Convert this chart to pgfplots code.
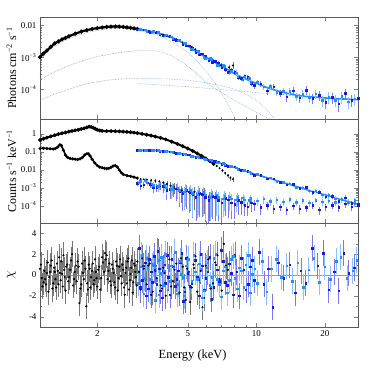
\documentclass[border=0pt]{standalone}
\usepackage{fontspec}
\setmainfont{Liberation Serif}
\usepackage{pgfplots}
\pgfplotsset{compat=1.18}
\definecolor{dblue}{RGB}{25,25,230}
\definecolor{lblue}{RGB}{30,144,255}
\definecolor{dbluebar}{RGB}{125,120,240}
\definecolor{lbluebar}{RGB}{135,195,255}
\definecolor{gbar}{RGB}{120,120,120}
\definecolor{compgray}{RGB}{150,150,150}
\definecolor{compblue}{RGB}{140,170,235}
\definecolor{zgreen}{RGB}{90,200,90}
\pgfplotsset{every axis/.append style={scale only axis, width=318bp,
  xtick pos=both, ytick pos=both, tick align=inside,
  axis line style={black!65},
  major tick length=4bp, minor tick length=2.2bp,
  tick label style={font=\fontsize{9}{10}\selectfont},
  /pgf/number format/assume math mode=true}}
\begin{document}
\begin{tikzpicture}
\path[use as bounding box] (0,0) rectangle (371bp,371bp);
% ================= TOP PANEL =================
\begin{axis}[at={(40bp,252bp)}, anchor=south west, height=102bp,
  xmode=log, xmin=1.12, xmax=28, xtick={2,5,10,20}, minor xtick={3,4,6,7,8,9},
  ymode=log, ymin=1.17e-5, ymax=0.018,
  xticklabels={,,,},
  ytick={1e-4,1e-3,1e-2}, yticklabels={10\textsuperscript{−4},10\textsuperscript{−3},0.01},
  ylabel={Photons cm\textsuperscript{−2} s\textsuperscript{−1}},
  ylabel style={at={(axis description cs:-0.09,0.5)}, anchor=center, font=\fontsize{12}{13}\selectfont}]
\addplot[compgray, densely dotted, line width=0.6bp] coordinates {(1.12,8e-4)(1.2,1.4e-3)(1.3,2.2e-3)(1.4,3.0e-3)(1.5,3.8e-3)(1.65,4.9e-3)(1.8,5.9e-3)(2.0,6.9e-3)(2.2,7.6e-3)(2.4,7.9e-3)(2.6,7.9e-3)(2.8,7.6e-3)(3.0,7.1e-3)};
\addplot[compgray, densely dotted, line width=0.6bp] coordinates {(1.12,2e-4)(1.3,3.5e-4)(1.5,5.5e-4)(1.75,8e-4)(2.0,1.05e-3)(2.5,1.4e-3)(3.0,1.6e-3)};
\addplot[compgray, densely dotted, line width=0.6bp] coordinates {(1.12,4.6e-5)(1.3,7e-5)(1.5,1e-4)(1.8,1.5e-4)(2.2,1.9e-4)(2.6,2.1e-4)(3.0,2.15e-4)};
\addplot[compblue, densely dotted, line width=0.6bp] coordinates {(3.0,7.1e-3)(3.5,5.6e-3)(4.0,3.8e-3)(4.5,2.4e-3)(5.0,1.4e-3)(5.5,7.5e-4)(6.0,3.8e-4)(6.5,1.8e-4)(7.0,8e-5)(7.5,3.4e-5)(8.0,1.4e-5)(8.2,1.0e-5)};
\addplot[compblue, densely dotted, line width=0.6bp] coordinates {(3.0,1.6e-3)(3.5,1.6e-3)(3.9,1.4e-3)(4.3,1.05e-3)(4.8,6.5e-4)(5.5,3e-4)(6.1,1.5e-4)(6.8,9e-5)(8,4.5e-5)(9.5,2.3e-5)(11.6,1.1e-5)};
\addplot[compblue, densely dotted, line width=0.6bp] coordinates {(3,2.15e-4)(4,2.1e-4)(5,1.9e-4)(6,1.6e-4)(7,1.3e-4)(8,1.0e-4)(9,7e-5)(10,4.5e-5)(11,2.5e-5)(12,1.2e-5)};
\addplot[compblue, densely dotted, line width=0.6bp] coordinates {(3,1.5e-4)(5,1.2e-4)(8,9e-5)(12,7e-5)(20,5.5e-5)(28,4.7e-5)};
\addplot[black, line width=2.2bp, mark=*, mark size=0.7bp] coordinates {(1.12,1.0e-3)(1.16,1.3e-3)(1.2,1.6e-3)(1.25,2.1e-3)(1.3,2.7e-3)(1.35,3.1e-3)(1.4,3.6e-3)(1.45,4.0e-3)(1.5,4.5e-3)(1.6,5.4e-3)(1.7,6.3e-3)(1.8,7.0e-3)(1.9,7.6e-3)(2.0,8.1e-3)(2.1,8.5e-3)(2.2,8.8e-3)(2.3,9.0e-3)(2.4,9.1e-3)(2.5,9.0e-3)(2.6,8.8e-3)(2.7,8.5e-3)(2.8,8.2e-3)(2.9,7.9e-3)(3.0,7.6e-3)};
\addplot[black, only marks, mark=*, mark size=0.8bp, error bars/.cd, y dir=both, y explicit relative, error mark=none, error bar style={gbar, line width=0.5bp}] table[x=x,y=y,y error=e] {
x y e
3.1 7.3e-3 0.02
3.2 7.0e-3 0.02
3.3 6.8e-3 0.02
3.4 6.4e-3 0.02
3.5 6.2e-3 0.02
3.6 5.8e-3 0.03
3.7 5.6e-3 0.03
3.8 5.2e-3 0.03
3.9 5.0e-3 0.03
4.0 4.7e-3 0.03
4.15 4.3e-3 0.04
4.3 3.9e-3 0.04
4.45 3.6e-3 0.04
4.6 3.2e-3 0.05
4.75 2.9e-3 0.05
4.9 2.6e-3 0.05
5.05 2.3e-3 0.06
5.2 2.1e-3 0.06
5.4 1.75e-3 0.07
5.6 1.5e-3 0.08
5.8 1.25e-3 0.09
6.0 1.1e-3 0.1
6.25 8.8e-4 0.12
6.5 7.5e-4 0.13
6.75 6.0e-4 0.15
7.0 5.6e-4 0.17
7.3 4.2e-4 0.2
7.6 4.8e-4 0.22
7.9 5.5e-4 0.25
};
\addplot[lblue, line width=1.6bp] coordinates {(3.0,7.5e-3)(3.2,7.0e-3)(3.42,6.4e-3)(3.65,5.8e-3)(3.9,5.1e-3)(4.17,4.3e-3)(4.45,3.6e-3)(4.75,2.8e-3)(5.07,2.1e-3)(5.42,1.55e-3)(5.79,1.15e-3)(6.18,8.8e-4)(6.6,6.8e-4)(7.05,5.2e-4)(7.53,4.0e-4)(8.04,3.0e-4)(8.59,2.4e-4)(9.17,1.95e-4)(9.8,1.6e-4)(10.46,1.35e-4)(11.17,1.12e-4)(11.93,9.6e-5)(12.74,8.4e-5)(13.61,7.5e-5)(14.54,6.8e-5)(15.52,6.3e-5)(16.58,5.9e-5)(17.7,5.7e-5)(18.91,5.5e-5)(20.19,5.3e-5)(21.57,5.15e-5)(23.03,5.0e-5)(24.6,4.9e-5)(26.27,4.8e-5)(28,4.7e-5)};
\addplot[dblue, only marks, mark=square*, mark size=0.8bp, error bars/.cd, y dir=both, y explicit relative, error mark=none, error bar style={dbluebar, line width=0.5bp}] table[x=x,y=y,y error=e] {
x y e
3.00 7.28e-3 0.04
3.10 7.49e-3 0.04
3.20 7.14e-3 0.04
3.31 6.43e-3 0.04
3.42 6.08e-3 0.04
3.53 6.34e-3 0.04
3.65 6.03e-3 0.04
3.77 5.18e-3 0.04
3.90 4.74e-3 0.04
4.03 4.94e-3 0.05
4.17 4.52e-3 0.05
4.31 3.71e-3 0.05
4.45 3.46e-3 0.05
4.60 3.39e-3 0.05
4.75 2.52e-3 0.05
4.91 2.27e-3 0.06
5.07 2.27e-3 0.07
5.25 1.94e-3 0.07
5.42 1.46e-3 0.08
5.60 1.24e-3 0.08
5.79 1.27e-3 0.08
5.98 1.1e-3 0.09
6.18 7.74e-4 0.1
6.39 7.02e-4 0.1
6.60 7.62e-4 0.1
6.82 6.72e-4 0.11
7.05 4.78e-4 0.12
7.29 4.05e-4 0.12
7.53 3.4e-4 0.13
7.78 4.03e-4 0.14
8.04 3.45e-4 0.15
8.31 2.32e-4 0.16
8.59 2.16e-4 0.17
8.88 2.6e-4 0.17
9.17 2.34e-4 0.18
9.48 1.51e-4 0.19
9.80 1.31e-4 0.2
10.46 1.49e-4 0.2
11.17 8.96e-5 0.25
11.93 1.2e-4 0.22
12.74 7.56e-5 0.25
13.61 5.85e-5 0.3
14.54 8.84e-5 0.28
15.52 5.36e-5 0.3
16.58 9.44e-5 0.3
17.70 5.13e-5 0.35
18.91 6.6e-5 0.35
20.19 3.98e-5 0.4
21.57 5.67e-5 0.38
23.03 3.5e-5 0.45
24.60 7.35e-5 0.35
26.27 4.56e-5 0.4
28.0 5.17e-5 0.4
};
\addplot[lblue, only marks, mark=square*, mark size=0.8bp, error bars/.cd, y dir=both, y explicit relative, error mark=none, error bar style={lbluebar, line width=0.5bp}] table[x=x,y=y,y error=e] {
x y e
3.04 7.18e-3 0.04
3.09 7.52e-3 0.04
3.25 7.12e-3 0.04
3.30 6.57e-3 0.04
3.47 6.02e-3 0.04
3.52 6.41e-3 0.04
3.70 5.93e-3 0.04
3.76 5.34e-3 0.04
3.95 4.7e-3 0.05
4.02 4.98e-3 0.05
4.23 4.4e-3 0.05
4.29 3.84e-3 0.05
4.51 3.24e-3 0.05
4.58 3.33e-3 0.05
4.82 2.81e-3 0.06
4.89 2.7e-3 0.06
5.15 1.81e-3 0.07
5.22 1.76e-3 0.07
5.50 1.58e-3 0.08
5.58 1.44e-3 0.08
5.87 9.81e-4 0.09
5.96 9.49e-4 0.09
6.27 9.3e-4 0.1
6.37 8.58e-4 0.1
6.70 5.7e-4 0.11
6.80 5.64e-4 0.11
7.15 5.59e-4 0.12
7.26 5.15e-4 0.12
7.64 3.31e-4 0.14
7.76 3.68e-4 0.14
8.16 3.31e-4 0.16
8.28 2.43e-4 0.16
8.72 1.98e-4 0.17
8.85 2.47e-4 0.17
9.31 2.2e-4 0.19
9.45 1.64e-4 0.19
10.09 1.63e-4 0.2
10.77 1.18e-4 0.22
11.51 1.23e-4 0.22
12.29 7.92e-5 0.25
13.12 8.8e-5 0.25
14.02 8.64e-5 0.28
14.98 5.94e-5 0.3
15.99 7.02e-5 0.3
17.08 5.51e-5 0.33
18.23 7.28e-5 0.33
19.48 4.59e-5 0.38
20.80 5.72e-5 0.38
22.22 4.59e-5 0.4
23.72 5.94e-5 0.4
25.34 4.12e-5 0.42
27.06 4.99e-5 0.42
};
\end{axis}
% ================= MIDDLE PANEL =================
\begin{axis}[at={(40bp,148bp)}, anchor=south west, height=104bp,
  xmode=log, xmin=1.12, xmax=28, xtick={2,5,10,20}, minor xtick={3,4,6,7,8,9},
  ymode=log, ymin=1.1e-5, ymax=6.5,
  xticklabels={,,,},
  ytick={1e-4,1e-3,1e-2,0.1,1}, yticklabels={10\textsuperscript{−4},10\textsuperscript{−3},0.01,0.1,1},
  ylabel={Counts s\textsuperscript{−1} keV\textsuperscript{−1}},
  ylabel style={at={(axis description cs:-0.09,0.5)}, anchor=center, font=\fontsize{12}{13}\selectfont}]
\addplot[black, line width=2bp, mark=*, mark size=0.7bp] coordinates {(1.12,0.45)(1.16,0.52)(1.2,0.6)(1.25,0.7)(1.3,0.82)(1.35,0.94)(1.4,1.05)(1.45,1.15)(1.5,1.28)(1.55,1.4)(1.6,1.52)(1.65,1.65)(1.7,1.8)(1.75,1.98)(1.8,2.2)(1.84,2.45)(1.88,2.35)(1.92,2.1)(1.96,1.85)(2.0,1.65)(2.05,1.5)(2.1,1.42)(2.2,1.38)(2.3,1.38)(2.4,1.36)(2.5,1.33)(2.6,1.3)(2.7,1.25)(2.8,1.2)(2.9,1.14)(3.0,1.08)(3.15,0.97)(3.3,0.87)(3.45,0.78)(3.6,0.69)(3.8,0.58)(4.0,0.48)(4.25,0.36)(4.5,0.27)(4.75,0.2)(5.0,0.15)(5.25,0.11)(5.5,0.08)(5.75,0.058)(6.0,0.042)(6.25,0.03)(6.5,0.021)};
\addplot[black, only marks, mark=*, mark size=0.8bp, error bars/.cd, y dir=both, y explicit relative, error mark=none, error bar style={gbar, line width=0.5bp}] table[x=x,y=y,y error=e] {
x y e
6.7 0.016 0.1
6.9 0.012 0.12
7.1 0.009 0.15
7.3 0.0065 0.2
7.5 0.0048 0.25
7.7 0.0035 0.3
7.9 0.003 0.3
};
\addplot[black, line width=1.6bp, mark=*, mark size=0.6bp] coordinates {(1.12,0.15)(1.16,0.155)(1.2,0.15)(1.24,0.145)(1.28,0.14)(1.31,0.15)(1.34,0.18)(1.37,0.24)(1.39,0.22)(1.42,0.12)(1.45,0.065)(1.48,0.048)(1.52,0.042)(1.56,0.04)(1.6,0.038)(1.64,0.037)(1.68,0.04)(1.72,0.048)(1.76,0.065)(1.8,0.078)(1.83,0.075)(1.86,0.058)(1.9,0.038)(1.95,0.024)(2.0,0.017)(2.05,0.014)(2.1,0.013)(2.15,0.012)(2.2,0.0115)(2.25,0.012)(2.3,0.0135)(2.35,0.016)(2.4,0.017)(2.45,0.014)(2.5,0.0095)(2.55,0.0068)(2.6,0.0055)(2.7,0.0047)(2.8,0.0043)(2.9,0.0039)(3.0,0.0034)};
\addplot[black, only marks, mark=*, mark size=0.8bp, error bars/.cd, y dir=both, y explicit relative, error mark=none, error bar style={gbar, line width=0.5bp}] table[x=x,y=y,y error=e] {
x y e
3.1 0.0030 0.1
3.2 0.0029 0.1
3.3 0.0028 0.12
3.45 0.0026 0.15
3.6 0.0024 0.2
3.75 0.0022 0.25
3.9 0.0019 0.3
4.05 0.0016 0.4
4.2 0.0013 0.5
4.35 0.0011 0.6
4.5 0.0009 0.7
4.7 0.0007 0.8
4.9 0.0008 0.85
5.1 0.0005 0.9
5.35 0.0006 0.9
5.6 0.0004 0.92
5.9 0.0005 0.93
6.2 0.0003 0.95
};
\addplot[lblue, line width=1.4bp] coordinates {(3.0,0.12)(3.2,0.121)(3.42,0.12)(3.65,0.117)(3.9,0.11)(4.17,0.099)(4.45,0.087)(4.75,0.075)(5.07,0.063)(5.42,0.052)(5.79,0.043)(6.18,0.035)(6.6,0.028)(7.05,0.022)(7.53,0.017)(8.04,0.013)(8.59,0.0098)(9.17,0.0075)(9.8,0.0058)(10.46,0.0046)(11.17,0.0036)(11.93,0.0028)(12.74,0.0022)(13.61,0.0017)(14.54,0.0013)(15.52,0.00105)(16.58,0.00078)(17.7,0.00062)(18.91,0.0005)(20.19,0.0004)(21.57,0.00031)(23.03,0.00024)(24.6,0.00019)(26.27,0.00015)(28,0.00012)};
\addplot[dblue, only marks, mark=square*, mark size=0.8bp, error bars/.cd, y dir=both, y explicit relative, error mark=none, error bar style={dbluebar, line width=0.5bp}] table[x=x,y=y,y error=e] {
x y e
3.00 0.1176 0.03
3.10 0.1234 0.03
3.20 0.1222 0.03
3.31 0.1174 0.03
3.42 0.1164 0.03
3.53 0.1231 0.03
3.65 0.1193 0.03
3.77 0.1099 0.03
3.90 0.1067 0.03
4.03 0.1092 0.03
4.17 0.1020 0.03
4.31 0.0912 0.03
4.45 0.0853 0.03
4.60 0.0834 0.03
4.75 0.0713 0.03
4.91 0.0662 0.04
5.07 0.0662 0.04
5.25 0.0609 0.04
5.42 0.0499 0.04
5.60 0.0456 0.04
5.79 0.0456 0.04
5.98 0.041 0.05
6.18 0.0326 0.05
6.39 0.0301 0.05
6.60 0.0300 0.05
6.82 0.027 0.05
7.05 0.0209 0.06
7.29 0.0183 0.06
7.53 0.0156 0.06
7.78 0.0161 0.07
8.04 0.0143 0.07
8.31 0.0105 0.08
8.59 0.00911 0.08
8.88 0.0093 0.09
9.17 0.0084 0.09
9.48 0.0061 0.1
9.80 0.0051 0.1
10.46 0.00497 0.1
11.17 0.0031 0.12
11.93 0.00322 0.12
12.74 0.00202 0.15
13.61 0.00145 0.17
14.54 0.00156 0.17
15.52 0.000924 0.2
16.58 0.00109 0.2
17.70 0.000558 0.25
18.91 0.000575 0.25
20.19 0.00032 0.3
21.57 0.000341 0.3
23.03 0.00018 0.35
24.60 0.000285 0.3
26.27 0.000135 0.4
28.0 0.000132 0.4
};
\addplot[lblue, only marks, mark=square*, mark size=0.8bp, error bars/.cd, y dir=both, y explicit relative, error mark=none, error bar style={lbluebar, line width=0.5bp}] table[x=x,y=y,y error=e] {
x y e
3.04 0.1181 0.03
3.09 0.1234 0.03
3.25 0.1246 0.03
3.30 0.1198 0.03
3.47 0.1164 0.03
3.52 0.1226 0.03
3.70 0.1212 0.03
3.76 0.1117 0.03
3.95 0.1037 0.03
4.02 0.1082 0.03
4.23 0.0999 0.03
4.29 0.0921 0.03
4.51 0.0825 0.03
4.58 0.0836 0.03
4.82 0.0756 0.04
4.89 0.0735 0.04
5.15 0.058 0.04
5.22 0.0563 0.04
5.50 0.052 0.04
5.58 0.0499 0.04
5.87 0.0399 0.05
5.96 0.0374 0.05
6.27 0.036 0.05
6.37 0.0336 0.05
6.70 0.0254 0.05
6.80 0.0243 0.05
7.15 0.0223 0.06
7.26 0.0207 0.06
7.64 0.0151 0.06
7.76 0.0155 0.06
8.16 0.0131 0.07
8.28 0.0108 0.07
8.72 0.0086 0.08
8.85 0.0094 0.08
9.31 0.0077 0.09
9.45 0.00627 0.09
10.09 0.00551 0.1
10.77 0.00398 0.11
11.51 0.00352 0.12
12.29 0.0023 0.14
13.12 0.00201 0.15
14.02 0.00168 0.17
14.98 0.0011 0.2
15.99 0.00099 0.2
17.08 0.00068 0.24
18.23 0.00067 0.24
19.48 0.000405 0.3
20.80 0.000371 0.3
22.22 0.000251 0.35
23.72 0.000235 0.35
25.34 0.000153 0.4
27.06 0.000139 0.4
};
\addplot[dblue, only marks, mark=square*, mark size=0.8bp, error bars/.cd, y dir=both, y explicit relative, error mark=none, error bar style={dbluebar, line width=0.5bp}] table[x=x,y=y,y error=e] {
x y e
3.00 1.8e-3 0.3
3.10 1.3e-3 0.4
3.20 1.5e-3 0.35
3.31 1.9e-3 0.35
3.42 1.6e-3 0.4
3.53 1.0e-3 0.5
3.65 1.1e-3 0.5
3.77 1.4e-3 0.5
3.90 1.2e-3 0.6
4.03 7e-4 0.7
4.17 8e-4 0.7
4.31 1.0e-3 0.7
4.45 9e-4 0.8
4.60 6e-4 0.85
4.75 5e-4 0.9
4.91 7e-4 0.9
5.07 6e-4 0.93
5.25 4e-4 0.95
5.42 3e-4 0.95
5.60 5e-4 0.95
5.79 4.5e-4 0.95
5.98 3e-4 0.96
6.18 2e-4 0.96
6.39 3.5e-4 0.95
6.60 3e-4 0.95
6.82 2e-4 0.93
7.05 1.5e-4 0.9
7.29 2.6e-4 0.9
7.53 2.2e-4 0.9
7.78 1.5e-4 0.88
8.04 1.2e-4 0.85
8.31 2e-4 0.85
8.59 1.6e-4 0.8
8.88 1.1e-4 0.75
9.17 9e-5 0.7
9.48 1.5e-4 0.7
9.80 1.3e-4 0.6
10.46 8e-5 0.6
11.17 1.1e-4 0.5
11.93 7e-5 0.5
12.74 9e-5 0.45
13.61 6e-5 0.5
14.54 1e-4 0.45
15.52 7e-5 0.5
16.58 8e-5 0.45
17.70 1.1e-4 0.4
18.91 6e-5 0.5
20.19 9e-5 0.45
21.57 1.1e-4 0.4
23.03 8e-5 0.45
24.60 1.3e-4 0.4
26.27 9e-5 0.45
28.0 1.1e-4 0.4
};
\addplot[lblue, only marks, mark=square*, mark size=0.8bp, error bars/.cd, y dir=both, y explicit relative, error mark=none, error bar style={lbluebar, line width=0.5bp}] table[x=x,y=y,y error=e] {
x y e
3.04 1.9e-3 0.3
3.09 2.3e-3 0.3
3.25 2.5e-3 0.3
3.30 1.9e-3 0.35
3.47 1.7e-3 0.4
3.52 1.4e-3 0.4
3.70 1.2e-3 0.5
3.76 1.5e-3 0.5
3.95 1.4e-3 0.55
4.02 1.0e-3 0.6
4.23 8e-4 0.7
4.29 1.1e-3 0.7
4.51 1.0e-3 0.75
4.58 7e-4 0.8
4.82 6e-4 0.9
4.89 8e-4 0.9
5.15 7e-4 0.92
5.22 5e-4 0.95
5.50 4e-4 0.95
5.58 6e-4 0.95
5.87 5.5e-4 0.95
5.96 4e-4 0.96
6.27 3e-4 0.95
6.37 4.5e-4 0.95
6.70 4e-4 0.93
6.80 3e-4 0.9
7.15 2.5e-4 0.9
7.26 3.5e-4 0.85
7.64 3.2e-4 0.85
7.76 2.5e-4 0.8
8.16 2.2e-4 0.8
8.28 3e-4 0.7
8.72 2.8e-4 0.65
8.85 2.2e-4 0.6
9.31 2e-4 0.55
9.45 2.6e-4 0.5
10.09 1.9e-4 0.5
10.77 2.4e-4 0.45
11.51 1.8e-4 0.45
12.29 2.2e-4 0.4
13.12 1.7e-4 0.4
14.02 2.3e-4 0.35
14.98 1.6e-4 0.4
15.99 2e-4 0.35
17.08 1.5e-4 0.4
18.23 2.1e-4 0.35
19.48 1.7e-4 0.4
20.80 1.9e-4 0.35
22.22 1.6e-4 0.4
23.72 2.2e-4 0.35
25.34 1.7e-4 0.4
27.06 2e-4 0.35
};
\end{axis}
% ================= BOTTOM PANEL =================
\begin{axis}[at={(40bp,44bp)}, anchor=south west, height=104bp,
  xmode=log, xmin=1.12, xmax=28, xtick={2,5,10,20}, minor xtick={3,4,6,7,8,9},
  ymin=-5, ymax=5, ytick={-4,-2,0,2,4}, yticklabels={-4,-2,0,2,4}, minor y tick num=1,
  xticklabels={2,5,10,20},
  ylabel={$\chi$},
  ylabel style={at={(axis description cs:-0.09,0.5)}, anchor=center, font=\fontsize{14}{15}\selectfont},
  xlabel={Energy (keV)},
  xlabel style={at={(axis description cs:0.48,-0.27)}, anchor=center, font=\fontsize{12.5}{14}\selectfont}]
\addplot[zgreen, line width=0.7bp] coordinates {(1.12,0)(28,0)};
\addplot[black, only marks, mark=*, mark size=0.9bp, error bars/.cd, y dir=both, y fixed=1.25, error mark=none, error bar style={gbar, line width=0.7bp}] table {
1.12 0.6
1.13 1.0
1.14 -0.3
1.15 -1.1
1.16 -0.7
1.17 0.4
1.18 -0.4
1.19 -0.9
1.20 0.2
1.21 1.2
1.22 -1.6
1.23 -0.2
1.24 0.3
1.25 0.9
1.26 1.4
1.27 -1.3
1.28 -0.8
1.29 0.7
1.30 0.3
1.31 -0.4
1.32 -1.2
1.33 1.1
1.34 0.4
1.35 -0.9
1.36 1.7
1.37 0.2
1.38 -0.5
1.39 1.3
1.40 0.1
1.41 -1.1
1.42 1.9
1.43 0.5
1.44 -0.2
1.45 -1.5
1.46 0.8
1.475 1.0
1.49 -0.6
1.505 -0.2
1.52 0.5
1.535 1.4
1.55 2.0
1.565 -1.0
1.58 -0.4
1.595 0.3
1.61 0.9
1.625 -0.6
1.64 1.3
1.655 0.8
1.67 -2.7
1.685 -1.3
1.70 -0.9
1.715 1.1
1.73 0.2
1.745 -0.4
1.76 1.4
1.775 0.6
1.79 -3.0
1.805 -0.8
1.82 -1.4
1.835 1.0
1.85 0.6
1.865 -1.2
1.88 -0.2
1.895 0.4
1.91 1.1
1.925 -0.9
1.94 -0.5
1.955 1.5
1.97 0.3
1.985 -0.3
2.00 -1.1
2.02 0.5
2.04 0.8
2.06 -1.4
2.08 -0.3
2.10 1.7
2.12 1.2
2.14 0.3
2.16 2.1
2.18 1.5
2.20 1.9
2.22 -0.4
2.24 0.4
2.26 1.1
2.28 -0.6
2.30 -1.0
2.32 1.0
2.34 0.6
2.36 0.2
2.38 -0.7
2.40 -1.2
2.42 1.3
2.44 0.9
2.46 -1.5
2.48 -0.3
2.50 0.8
2.52 1.5
2.54 -0.1
2.56 -0.8
2.58 1.0
2.60 0.5
2.62 -1.2
2.64 -1.9
2.66 0.2
2.68 0.7
2.70 -0.8
2.72 1.3
2.74 1.6
2.76 -1.4
2.78 -0.5
2.80 0.1
2.82 0.7
2.84 1.4
2.86 -1.7
2.88 -0.7
2.90 1.1
2.92 0.9
2.94 0.3
2.96 -0.2
2.98 -1.0
3.00 1.3
3.05 0.3
3.10 -1.4
3.15 1.6
3.20 0.6
3.25 -0.4
3.30 -0.9
3.35 0.9
3.40 1.1
3.45 -1.9
3.50 -1.6
3.55 1.0
3.60 0.4
3.65 -0.3
3.70 2.2
3.75 1.4
3.80 -1.0
3.85 -1.3
3.90 0.7
3.95 0.2
4.00 -2.0
4.07 1.8
4.15 1.5
4.22 -1.1
4.30 -0.6
4.37 0.5
4.45 1.1
4.52 -0.9
4.60 -1.7
4.67 1.6
4.75 0.8
4.82 -1.2
4.90 -2.4
4.97 0.6
5.05 0.3
5.12 -2.6
5.20 -1.2
5.30 1.0
5.40 1.8
5.50 -1.6
5.60 -0.5
5.70 0.4
5.80 -3.1
5.90 -2.2
6.00 0.9
6.15 1.5
6.30 -1.3
6.45 -0.8
6.60 1.2
6.75 1.9
6.90 -0.4
7.05 -1.5
7.20 3.0
7.35 0.9
7.50 0.5
};
\addplot[dblue, only marks, mark=square*, mark size=0.8bp, error bars/.cd, y dir=both, y fixed=1.25, error mark=none, error bar style={dbluebar, line width=0.6bp}] table {
3.05 2.6
3.08 -1.2
3.15 -0.5
3.18 0.9
3.25 1.2
3.28 -2.0
3.35 -1.3
3.38 1.5
3.45 0.3
3.48 -0.7
3.55 1.8
3.58 0.5
3.65 -0.9
3.68 2.3
3.75 0.6
3.78 -1.5
3.85 -2.2
3.88 0.4
3.95 1.0
3.98 -0.8
4.05 1.9
4.10 -0.2
4.17 -1.9
4.25 1.5
4.32 0.8
4.40 -1.1
4.47 -0.4
4.55 0.4
4.62 1.2
4.70 2.1
4.78 -2.5
4.85 -1.6
4.92 1.6
5.00 0.2
5.10 -1.1
5.20 -0.8
5.30 0.7
5.40 1.4
5.50 -0.2
5.60 -2.0
5.70 2.0
5.80 0.9
5.90 -1.4
6.00 -0.3
6.12 0.3
6.25 1.7
6.37 -2.3
6.50 -1.2
6.62 1.0
6.75 0.5
6.88 -0.6
7.00 2.4
7.15 1.3
7.30 -0.7
7.45 -1.0
7.60 1.1
7.75 0.2
7.90 -1.9
8.05 1.9
8.20 0.3
8.40 -2.0
8.60 1.6
8.80 0.5
9.00 -1.4
9.20 -0.9
9.40 0.8
9.60 1.4
9.80 -0.5
10.3 2.2
10.8 -0.9
11.3 0.6
11.8 -3.1
12.5 1.2
13.2 -0.3
14.0 1.0
14.8 -1.7
15.7 0.4
16.5 -0.8
17.6 2.6
18.6 0.9
19.7 2.1
20.8 -1.4
22.0 0.3
23.0 -1.5
24.2 2.1
25.5 0.2
27.0 0.7
};
\addplot[lblue, only marks, mark=square*, mark size=0.8bp, error bars/.cd, y dir=both, y fixed=1.25, error mark=none, error bar style={lbluebar, line width=0.6bp}] table {
3.03 -0.8
3.10 0.8
3.13 1.9
3.20 -1.8
3.23 -0.3
3.30 1.6
3.33 0.6
3.40 -0.4
3.43 -1.6
3.50 0.9
3.53 1.1
3.60 -2.4
3.63 -0.5
3.70 1.4
3.73 -1.9
3.80 0.2
3.83 1.7
3.90 -1.0
3.93 0.4
4.00 2.0
4.08 -1.4
4.18 -0.6
4.23 0.9
4.33 0.7
4.38 2.2
4.48 -1.8
4.53 -0.9
4.63 1.3
4.68 0.1
4.78 -0.2
4.83 -2.0
4.93 0.9
5.02 1.5
5.10 -1.3
5.20 -0.6
5.30 1.9
5.40 0.3
5.50 -0.4
5.60 1.1
5.70 0.6
5.80 -2.2
5.90 -1.5
6.02 0.7
6.12 1.2
6.25 -1.0
6.38 -0.2
6.50 1.6
6.62 2.0
6.75 -0.4
6.88 -0.9
7.02 -2.1
7.15 0.4
7.30 0.8
7.45 -1.7
7.60 -0.5
7.75 1.5
7.90 1.8
8.05 -0.3
8.25 -1.3
8.40 0.7
8.60 0.4
8.80 -1.2
9.00 1.0
9.20 1.9
9.40 -1.7
9.60 0.1
9.85 0.6
10.1 -0.8
10.6 1.3
11.1 -1.6
11.6 0.6
12.2 1.5
12.9 -0.2
13.6 0.9
14.4 -0.6
15.2 1.2
16.1 -1.2
17.0 0.5
17.9 1.6
18.9 -0.7
20.0 0.8
21.1 -0.4
22.5 1.3
23.5 1.7
25.0 -0.3
26.5 0.4
27.6 1.4
};
\end{axis}
\end{tikzpicture}
\end{document}
